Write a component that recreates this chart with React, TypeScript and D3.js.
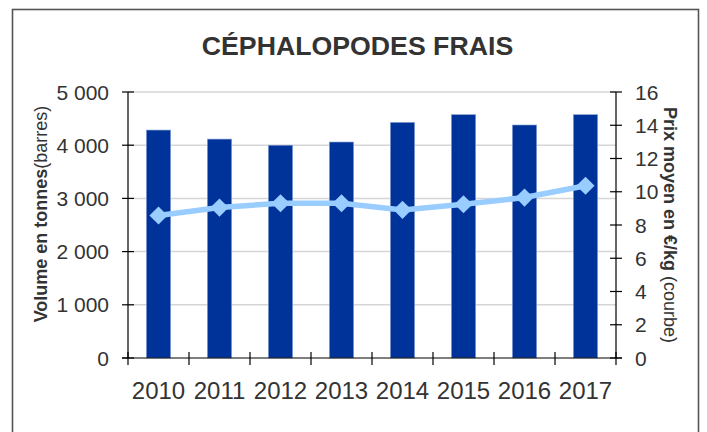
import React from "react";
import * as d3 from "d3";

const years = ["2010", "2011", "2012", "2013", "2014", "2015", "2016", "2017"];
const volumes = [4285, 4115, 4000, 4060, 4430, 4575, 4380, 4575];
const prices = [8.57, 9.05, 9.31, 9.31, 8.91, 9.25, 9.65, 10.36];
const leftTicks = [0, 1000, 2000, 3000, 4000, 5000];
const rightTicks = [0, 2, 4, 6, 8, 10, 12, 14, 16];

const W = 707;
const H = 432;
const M = { left: 128, right: 616, top: 92, bottom: 358 };
const FONT = "'Liberation Sans', Arial, Helvetica, sans-serif";
const TXT = "#333333";

export default function App() {
  const x = d3.scaleBand<string>().domain(years).range([M.left, M.right]).padding(0);
  const yL = d3.scaleLinear().domain([0, 5000]).range([M.bottom, M.top]);
  const yR = d3.scaleLinear().domain([0, 16]).range([M.bottom, M.top]);
  const fmt = d3.formatLocale({ decimal: ",", thousands: "\u00a0", grouping: [3], currency: ["", "€"] }).format(",d");
  const bw = x.bandwidth();
  const cx = (y: string) => (x(y) as number) + bw / 2;

  const linePath = d3
    .line<number>()
    .x((_, i) => cx(years[i]))
    .y((d) => yR(d))(prices) as string;

  const diamond = d3.symbol().type(d3.symbolSquare).size(165)() as string;

  const boundaries = d3.range(years.length + 1).map((i) => M.left + i * bw);

  return (
    <svg width={W} height={H} style={{ position: "absolute", left: 0, top: 0, background: "#fff" }}>
      <rect x={0} y={0} width={W} height={H} fill="#fff" />
      <rect x={12.5} y={9.5} width={686} height={450} fill="#fff" stroke="#555" strokeWidth={1.6} />
      <text x={357.5} y={55} textAnchor="middle" fontFamily={FONT} fontWeight="bold" fontSize={26.7} fill={TXT}>
        CÉPHALOPODES FRAIS
      </text>
      {leftTicks.slice(1).map((t) => (
        <line key={"g" + t} x1={M.left} x2={M.right} y1={yL(t)} y2={yL(t)} stroke="#d6d6d6" strokeWidth={1.5} />
      ))}
      {years.map((yr, i) => (
        <rect
          key={yr}
          x={(x(yr) as number) + bw * 0.3}
          y={yL(volumes[i])}
          width={bw * 0.4}
          height={M.bottom - yL(volumes[i])}
          fill="#003399"
          stroke="#8fa8d8"
          strokeWidth={0.6}
        />
      ))}
      <line x1={M.left} x2={M.left} y1={M.top} y2={M.bottom} stroke="#000" strokeWidth={1.2} />
      <line x1={M.right} x2={M.right} y1={M.top} y2={M.bottom} stroke="#000" strokeWidth={1.2} />
      <line x1={M.left - 6} x2={M.right + 6} y1={M.bottom} y2={M.bottom} stroke="#000" strokeWidth={1.2} />
      {leftTicks.map((t) => (
        <g key={"l" + t}>
          <line x1={M.left - 6} x2={M.left + 6} y1={yL(t)} y2={yL(t)} stroke="#000" strokeWidth={1.2} />
          <text x={109} y={yL(t) + 7.5} textAnchor="end" fontFamily={FONT} fontSize={21} fill={TXT}>
            {fmt(t)}
          </text>
        </g>
      ))}
      {rightTicks.map((t) => (
        <g key={"r" + t}>
          <line x1={M.right - 6} x2={M.right + 6} y1={yR(t)} y2={yR(t)} stroke="#000" strokeWidth={1.2} />
          <text x={635} y={yR(t) + 7.5} textAnchor="start" fontFamily={FONT} fontSize={21} fill={TXT}>
            {t}
          </text>
        </g>
      ))}
      {boundaries.map((b, i) => (
        <line key={"b" + i} x1={b} x2={b} y1={M.bottom - 6} y2={M.bottom + 7} stroke="#000" strokeWidth={1.2} />
      ))}
      {years.map((yr) => (
        <text key={"x" + yr} x={cx(yr)} y={399} textAnchor="middle" fontFamily={FONT} fontSize={24} fill={TXT}>
          {yr}
        </text>
      ))}
      <path d={linePath} fill="none" stroke="#99CCFF" strokeWidth={5.5} />
      {prices.map((p, i) => (
        <path key={"d" + i} d={diamond} transform={`translate(${cx(years[i])},${yR(p)}) rotate(45)`} fill="#99CCFF" />
      ))}
      <text transform="translate(47,214) rotate(-90)" textAnchor="middle" fontFamily={FONT} fontSize={18} fill={TXT}>
        <tspan fontWeight="bold">Volume en tonnes</tspan>
        <tspan>(barres)</tspan>
      </text>
      <text transform="translate(664,225) rotate(90)" textAnchor="middle" fontFamily={FONT} fontSize={18} fill={TXT}>
        <tspan fontWeight="bold">Prix moyen en €/kg</tspan>
        <tspan> (courbe)</tspan>
      </text>
    </svg>
  );
}
